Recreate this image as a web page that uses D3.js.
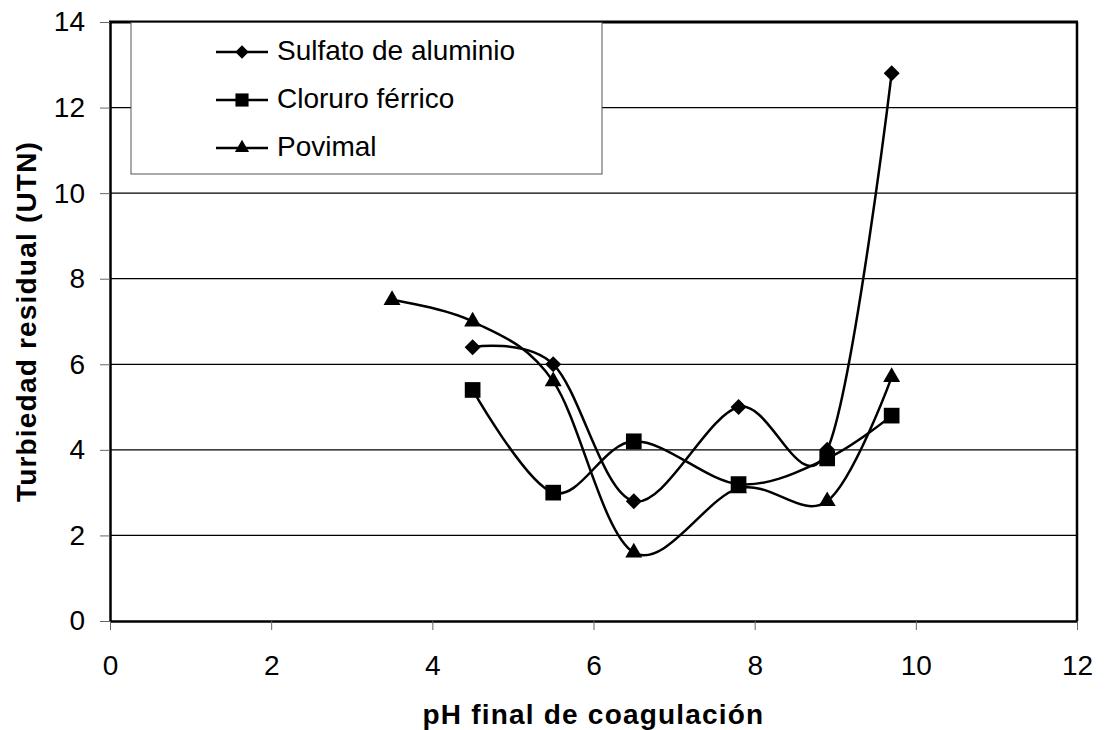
<!DOCTYPE html>
<html>
<head>
<meta charset="utf-8">
<script src="https://cdn.jsdelivr.net/npm/d3@7"></script>
<style>
  body { margin: 0; background: #fff; }
  text { font-family: "Liberation Sans", Arial, sans-serif; }
</style>
</head>
<body>
<div id="chart"></div>
<script>
// data
var seriesNames = ["Sulfato de aluminio", "Cloruro férrico", "Povimal"];
var sulfatoPH = [4.5, 5.5, 6.5, 7.8, 8.9, 9.7];
var sulfatoTurb = [6.4, 6.0, 2.8, 5.0, 4.0, 12.8];
var cloruroPH = [4.5, 5.5, 6.5, 7.8, 8.9, 9.7];
var cloruroTurb = [5.4, 3.0, 4.2, 3.2, 3.8, 4.8];
var povimalPH = [3.5, 4.5, 5.5, 6.5, 7.8, 8.9, 9.7];
var povimalTurb = [7.5, 7.0, 5.6, 1.6, 3.1, 2.8, 5.7];
var xTicks = [0, 2, 4, 6, 8, 10, 12];
var yTicks = [0, 2, 4, 6, 8, 10, 12, 14];

// set the dimensions and margins of the graph
var margin = { top: 22, right: 28, bottom: 109, left: 110 },
  width = 1105 - margin.left - margin.right,
  height = 730 - margin.top - margin.bottom;

var svg = d3.select("#chart")
  .append("svg")
  .attr("width", 1105)
  .attr("height", 730)
  .append("g")
  .attr("transform", "translate(" + margin.left + "," + margin.top + ")");

var x = d3.scaleLinear().domain([0, 12]).range([0, width]);
var y = d3.scaleLinear().domain([0, 14]).range([height, 0]);

// gridlines
svg.append("g")
  .selectAll("line")
  .data(yTicks.filter(function (d) { return d > 0 && d < 14; }))
  .enter().append("line")
  .attr("x1", 0).attr("x2", width)
  .attr("y1", function (d) { return y(d); })
  .attr("y2", function (d) { return y(d); })
  .attr("stroke", "#000")
  .attr("stroke-width", 1.2);

// frame: top and right
svg.append("line").attr("x1", -1).attr("x2", width + 1).attr("y1", 0).attr("y2", 0)
  .attr("stroke", "#000").attr("stroke-width", 3);
svg.append("line").attr("x1", width).attr("x2", width).attr("y1", 0).attr("y2", height)
  .attr("stroke", "#000").attr("stroke-width", 2.5);

// X axis
var xAxis = svg.append("g")
  .attr("transform", "translate(0," + height + ")")
  .call(d3.axisBottom(x).tickValues(xTicks).tickSize(9).tickPadding(25).tickSizeOuter(0));
xAxis.select(".domain").attr("stroke", "#000").attr("stroke-width", 2.5);
xAxis.selectAll(".tick line").attr("stroke", "#666");
xAxis.selectAll("text").style("font-size", "28px").attr("fill", "#000");

// Y axis
var yAxis = svg.append("g")
  .call(d3.axisLeft(y).tickValues(yTicks).tickSize(10).tickPadding(15).tickSizeOuter(0));
yAxis.select(".domain").attr("stroke", "#000").attr("stroke-width", 2.5);
yAxis.selectAll(".tick line").attr("stroke", "#666");
yAxis.selectAll("text").style("font-size", "28px").attr("fill", "#000");

// axis titles
svg.append("text")
  .attr("text-anchor", "middle")
  .attr("x", x(6))
  .attr("y", height + 103)
  .style("font-size", "28px")
  .style("font-weight", "bold")
  .style("letter-spacing", "1.2px")
  .text("pH final de coagulación");

svg.append("text")
  .attr("text-anchor", "middle")
  .attr("transform", "rotate(-90)")
  .attr("x", -y(7))
  .attr("y", -74)
  .style("font-size", "28px")
  .style("font-weight", "bold")
  .style("letter-spacing", "1.2px")
  .text("Turbiedad residual (UTN)");

// diamond = square turned 45 degrees
var symbols = [d3.symbolSquare, d3.symbolSquare, d3.symbolTriangle];
var symSizes = [128, 246, 125];
var symRot = [45, 0, 0];

var series = [
  { name: seriesNames[0], xs: sulfatoPH, ys: sulfatoTurb },
  { name: seriesNames[1], xs: cloruroPH, ys: cloruroTurb },
  { name: seriesNames[2], xs: povimalPH, ys: povimalTurb }
];

var line = d3.line()
  .x(function (d) { return x(d[0]); })
  .y(function (d) { return y(d[1]); })
  .curve(d3.curveCardinal.tension(0));

series.forEach(function (s, k) {
  var pts = s.xs.map(function (v, i) { return [v, s.ys[i]]; });
  svg.append("path")
    .datum(pts)
    .attr("fill", "none")
    .attr("stroke", "#000")
    .attr("stroke-width", 2.5)
    .attr("d", line);
  svg.selectAll(".m" + k)
    .data(pts)
    .enter().append("path")
    .attr("class", "m" + k)
    .attr("transform", function (d) {
      return "translate(" + x(d[0]) + "," + y(d[1]) + ") rotate(" + symRot[k] + ")";
    })
    .attr("d", d3.symbol().type(symbols[k]).size(symSizes[k]))
    .attr("fill", "#000");
});

// legend
var legend = svg.append("g").attr("transform", "translate(21,0)");
legend.append("rect")
  .attr("x", 0).attr("y", 0.5)
  .attr("width", 471).attr("height", 151.5)
  .attr("fill", "#fff")
  .attr("stroke", "#555")
  .attr("stroke-width", 1);

legend.selectAll(".lg")
  .data(series)
  .enter().append("g")
  .attr("class", "lg")
  .attr("transform", function (d, i) { return "translate(0," + (30 + i * 48) + ")"; })
  .each(function (d, i) {
    var g = d3.select(this);
    g.append("line").attr("x1", 85).attr("x2", 137).attr("y1", 0).attr("y2", 0)
      .attr("stroke", "#000").attr("stroke-width", 2.5);
    g.append("path")
      .attr("transform", "translate(111,0) rotate(" + symRot[i] + ")")
      .attr("d", d3.symbol().type(symbols[i]).size(symSizes[i] * 0.7))
      .attr("fill", "#000");
    g.append("text")
      .attr("x", 146).attr("y", 8)
      .style("font-size", "28px")
      .text(d.name);
  });
</script>
</body>
</html>
